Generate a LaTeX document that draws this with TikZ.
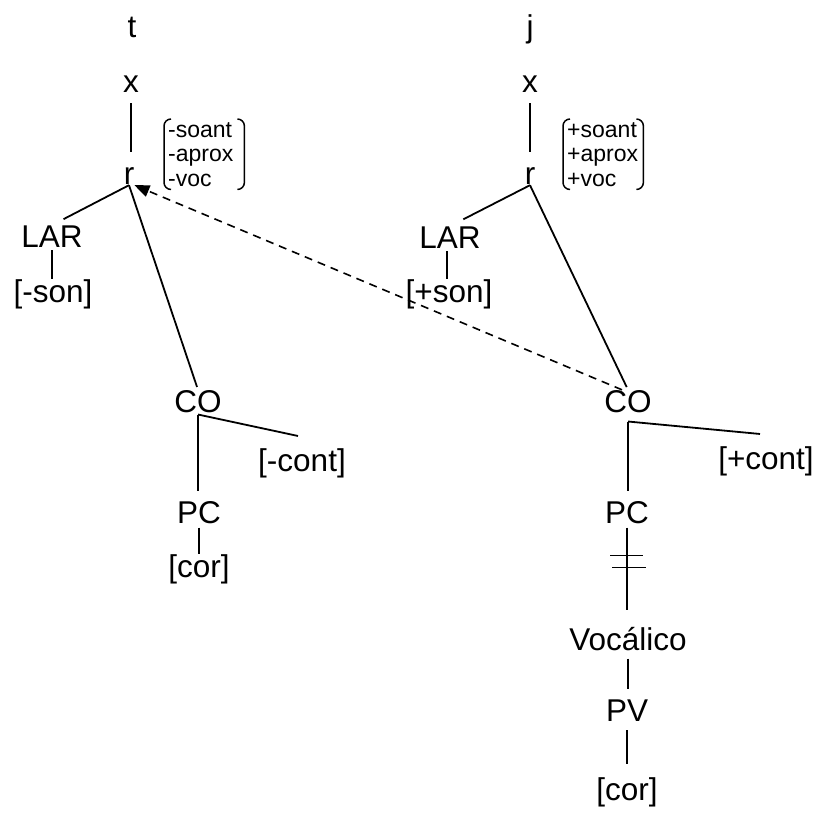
\documentclass[tikz,border=0pt]{standalone}
\usepackage{fontspec}
\setmainfont{Liberation Sans}
\usetikzlibrary{arrows.meta,calc}
\begin{document}
\begin{tikzpicture}[x=1pt,y=-1pt,
  lab/.style={inner sep=0pt, anchor=base, font=\fontsize{31.5}{36}\selectfont},
  feat/.style={anchor=north west, inner xsep=4pt, inner ysep=3pt, text width=72pt, align=left, font=\fontsize{23}{24.5}\selectfont},
  edge/.style={line width=1.8pt},
  brk/.style={line width=1.5pt, rounded corners=7pt},
  link/.style={line width=1.6pt, dash pattern=on 8pt off 6pt, -{Triangle[length=15pt,width=12pt]}},
]
\useasboundingbox (0,0) rectangle (816,829);

% left tree
\node[lab] (tL) at (132,38) {t};
\node[lab] (xL) at (131,93) {x};
\node[lab] (rL) at (129,185) {r};
\node[lab] (larL) at (52,247) {LAR};
\node[lab] (sonL) at (53,302) {[-son]};
\node[lab] (coL) at (198,412) {CO};
\node[lab] (contL) at (302,471) {[-cont]};
\node[lab] (pcL) at (199,523) {PC};
\node[lab] (corL) at (199,577) {[cor]};
\node[feat] (featL) at (164,119) {-soant\\-aprox\\-voc};

% right tree
\node[lab] (jR) at (530,38) {j};
\node[lab] (xR) at (530,93) {x};
\node[lab] (rR) at (530,185) {r};
\node[lab] (larR) at (450,248) {LAR};
\node[lab] (sonR) at (449,302) {[+son]};
\node[lab] (coR) at (628,412) {CO};
\node[lab] (contR) at (766,469) {[+cont]};
\node[lab] (pcR) at (627,523) {PC};
\node[lab] (vocR) at (628,650) {Vocálico};
\node[lab] (pvR) at (627,721) {PV};
\node[lab] (corR) at (627,800) {[cor]};
\node[feat] (featR) at (563,119) {+soant\\+aprox\\+voc};

% brackets
\foreach \f in {featL,featR}{
  \draw[brk] ([xshift=7pt]\f.north west) -- (\f.north west) -- (\f.south west) -- ([xshift=7pt]\f.south west);
  \draw[brk] ([xshift=-7pt]\f.north east) -- (\f.north east) -- (\f.south east) -- ([xshift=-7pt]\f.south east);
}

% left connectors
\draw[edge, shorten <=10pt, shorten >=16pt] (xL.south) -- (xL.south |- rL.north);
\draw[edge, shorten >=13pt] (rL.south) -- (larL.north);
\draw[edge, shorten <=3pt] (larL.south) -- (larL.south |- sonL.north);
\draw[edge, shorten >=3pt] (rL.south) -- (coL.north);
\coordinate (cL) at ([yshift=-2pt]coL.south);
\draw[edge, shorten >=10pt] (cL) -- (cL |- pcL.north);
\draw[edge] (cL) -- ([xshift=-4pt,yshift=12pt]contL.north);
\draw[edge, shorten <=4pt] (pcL.south) -- (pcL.south |- corL.north);

% right connectors
\draw[edge, shorten <=10pt, shorten >=16pt] (xR.south) -- (xR.south |- rR.north);
\draw[edge, shorten >=15pt] (rR.south) -- (larR.north);
\draw[edge, shorten <=3pt] ([xshift=-3pt]larR.south) -- ([xshift=-3pt]larR.south |- sonR.north);
\draw[edge, shorten >=3pt] (rR.south) -- (coR.north);
\coordinate (cR) at ([yshift=-9pt]coR.south);
\draw[edge, shorten >=10pt] (cR) -- (cR |- pcR.north);
\draw[edge] (cR) -- ([xshift=-6pt,yshift=12pt]contR.north);
\draw[edge, shorten <=4pt, shorten >=17pt] (pcR.south) -- (pcR.south |- vocR.north);
\coordinate (h1) at ([yshift=-32pt]pcR.south);
\coordinate (h2) at ([yshift=-44pt]pcR.south);
\draw[edge] ([xshift=-17pt]h1) -- ([xshift=16pt]h1);
\draw[edge] ([xshift=-15pt]h2) -- ([xshift=19pt]h2);
\draw[edge, shorten <=8pt, shorten >=10pt] (vocR.south) -- (vocR.south |- pvR.north);
\draw[edge, shorten <=9pt, shorten >=13pt] (pvR.south) -- (pvR.south |- corR.north);

% dashed arrow
\draw[link] ([xshift=-6pt]coR.north) -- (rL.south east);
\end{tikzpicture}
\end{document}
